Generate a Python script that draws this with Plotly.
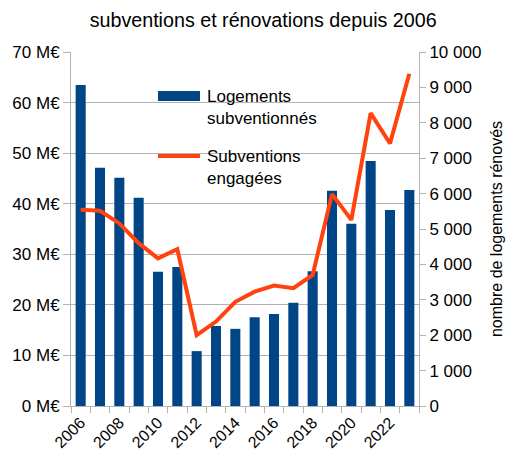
import plotly.graph_objects as go

years = [str(y) for y in range(2006, 2024)]
logements = [9070, 6730, 6450, 5880, 3790, 3930, 1550, 2260, 2180, 2510,
             2600, 2920, 3810, 6080, 5150, 6920, 5540, 6100]
subventions = [38.8, 38.6, 36.1, 32.2, 29.2, 31.0, 14.0, 16.7, 20.6, 22.6,
               23.8, 23.3, 25.9, 41.9, 36.8, 57.9, 51.9, 65.7]
tick_text = [y if int(y) % 2 == 0 else "" for y in years]
left_ticks = [0, 10, 20, 30, 40, 50, 60, 70]
left_text = [f"{v} M€" for v in left_ticks]
right_ticks = list(range(0, 10001, 1000))
right_text = ["0", "1 000", "2 000", "3 000", "4 000", "5 000", "6 000",
              "7 000", "8 000", "9 000", "10 000"]

BLUE = "#004586"
ORANGE = "#ff420e"
GRID = "#b3b3b3"
FONT = "Liberation Sans"

fig = go.Figure()
fig.add_trace(go.Bar(x=years, y=logements, marker_color=BLUE, marker_line_width=0,
                     name="Logements subventionnés", yaxis="y", showlegend=False))
fig.add_trace(go.Scatter(x=years, y=subventions, mode="lines",
                         line=dict(color=ORANGE, width=4), name="Subventions engagées",
                         yaxis="y2", showlegend=False))

fig.update_layout(
    width=508, height=454,
    margin=dict(l=71, r=89, t=52, b=48, autoexpand=False),
    paper_bgcolor="white", plot_bgcolor="white",
    font=dict(family=FONT, size=17, color="#000000"),
    bargap=0.48,
    title=dict(text="subventions et rénovations depuis 2006", x=0.518, xanchor="center",
               y=0.955, yanchor="middle", font=dict(size=19.7, family=FONT, color="#000000")),
    xaxis=dict(type="category", tickson="boundaries", tickmode="array",
               tickvals=years, ticktext=tick_text, tickangle=-45, automargin=False,
               ticks="outside", ticklen=6, tickcolor=GRID, showline=True,
               linecolor=GRID, showgrid=False, tickfont=dict(size=16)),
    yaxis=dict(side="right", range=[0, 10000], tickmode="array", tickvals=right_ticks,
               ticktext=right_text, ticks="outside", ticklen=6, tickcolor=GRID,
               showline=True, linecolor=GRID, showgrid=False, zeroline=False,
               automargin=False,
               title=dict(text="nombre de logements rénovés", font=dict(size=16), standoff=10)),
    yaxis2=dict(side="left", overlaying="y", range=[0, 70], tickmode="array",
                tickvals=left_ticks, ticktext=left_text, ticks="outside", ticklen=7,
                tickcolor=GRID, showline=True, linecolor=GRID, showgrid=True,
                gridcolor=GRID, zeroline=False, automargin=False),
)

# manual legend
fig.add_shape(type="rect", xref="paper", yref="paper", x0=0.25, x1=0.3707,
              y0=0.8616, y1=0.8898, fillcolor=BLUE, line=dict(width=0))
fig.add_shape(type="line", xref="paper", yref="paper", x0=0.25, x1=0.3707,
              y0=0.7062, y1=0.7062, line=dict(color=ORANGE, width=4))
fig.add_annotation(xref="paper", yref="paper", x=0.385, y=0.8446, xanchor="left",
                   yanchor="middle", align="left", showarrow=False,
                   text="Logements<br>subventionnés", font=dict(size=17))
fig.add_annotation(xref="paper", yref="paper", x=0.385, y=0.6737, xanchor="left",
                   yanchor="middle", align="left", showarrow=False,
                   text="Subventions<br>engagées", font=dict(size=17))

fig.write_html("out.html", config={"displayModeBar": False},
               post_script="document.body.style.margin='0';")
